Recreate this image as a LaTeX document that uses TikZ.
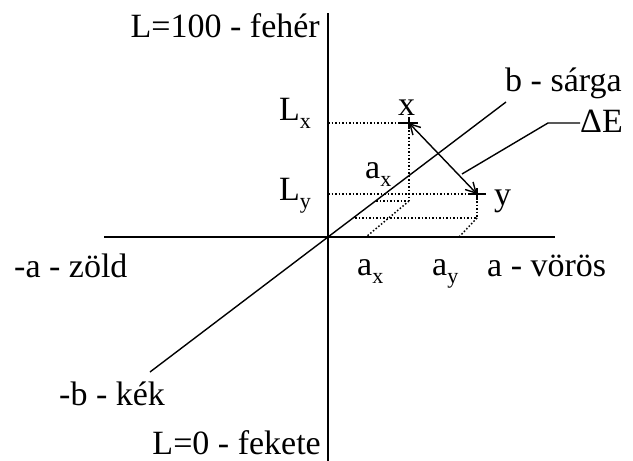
\documentclass[tikz,border=0pt]{standalone}
\usepackage{fontspec}
\setmainfont{Liberation Serif}
\usetikzlibrary{arrows.meta}
\newcommand{\labsub}[1]{\raisebox{-8.5pt}{\fontsize{22}{24}\selectfont #1}}
\tikzset{
  labaxis/.style={line width=2pt, draw=black, line cap=butt},
  labline/.style={line width=1.4pt, draw=black},
  labdot/.style={line width=1.5pt, draw=black, dash pattern=on 1.5pt off 2pt},
  labcross/.style={line width=2pt, draw=black},
  labarrow/.style={line width=1.4pt, draw=black, {Straight Barb[length=10pt,width=11pt]}-{Straight Barb[length=10pt,width=11pt]}},
  labtext/.style={font=\fontsize{34}{40}\selectfont, inner sep=0pt, anchor=base west},
  labtextr/.style={labtext, anchor=base east},
}

\begin{document}
\begin{tikzpicture}[x=1pt, y=-1pt]
\useasboundingbox (0,0) rectangle (633,461);
% axes
\coordinate (O) at (328,237);
\coordinate (Ltop) at (328,13);
\coordinate (Lbot) at (328,461);
\coordinate (aneg) at (104,237);
\coordinate (apos) at (555,237);
\coordinate (bneg) at (150,372);
\coordinate (bpos) at (506,102);
% the two colours and their projections
\coordinate (X) at (409,123);
\coordinate (Y) at (477,194);
\coordinate (Lx) at (328,123);
\coordinate (Ly) at (328,194);
\coordinate (Xb) at (409,201);
\coordinate (Xbb) at (376,201);
\coordinate (Xa) at (366,237);
\coordinate (Yb) at (477,218);
\coordinate (Ybb) at (355,218);
\coordinate (Ya) at (459,237);
\coordinate (dEa) at (462,174);
\coordinate (dEb) at (548,123);
\coordinate (dEc) at (580,123);
\draw[labaxis] (Ltop) -- (Lbot);
\draw[labaxis] (aneg) -- (apos);
\draw[labline] (bneg) -- (bpos);
\draw[labdot] (Lx) -- (X);
\draw[labdot] (X) -- (Xb);
\draw[labdot] (Xbb) -- (Xb);
\draw[labdot] (Xb) -- (Xa);
\draw[labdot] (Ly) -- (Y);
\draw[labdot] (Y) -- (Yb);
\draw[labdot] (Ybb) -- (Yb);
\draw[labdot] (Yb) -- (Ya);
\draw[labcross] (X) ++(-9,0) -- ++(18,0) (X) ++(0,-6) -- ++(0,12);
\draw[labcross] (Y) ++(-9,0) -- ++(18,0) (Y) ++(0,-6) -- ++(0,12);
\draw[labarrow] (X) -- (Y);
\draw[labline] (dEa) -- (dEb) -- (dEc);
% labels
\node[labtextr] (tLtop) at (320,37) {L=100 - fehér};
\node[labtextr] (tLbot) at (321,454) {L=0 - fekete};
\node[labtext] (taneg) at (14,277) {-a - zöld};
\node[labtext] (tapos) at (487,276) {a - vörös};
\node[labtext] (tbpos) at (505,91) {b - sárga};
\node[labtext] (tbneg) at (59,405) {-b - kék};
\node[labtext] (tdE) at (580,132) {ΔE};
\node[labtext] (tX) at (398,115) {x};
\node[labtext] (tY) at (494,205) {y};
\node[labtext] (tLx) at (279,120) {L\labsub{x}};
\node[labtext] (tLy) at (279,200) {L\labsub{y}};
\node[labtext] (tax) at (357,275) {a\labsub{x}};
\node[labtext] (tay) at (432,275) {a\labsub{y}};
\node[labtext] (taxm) at (365,178) {a\labsub{x}};
\end{tikzpicture}
\end{document}
